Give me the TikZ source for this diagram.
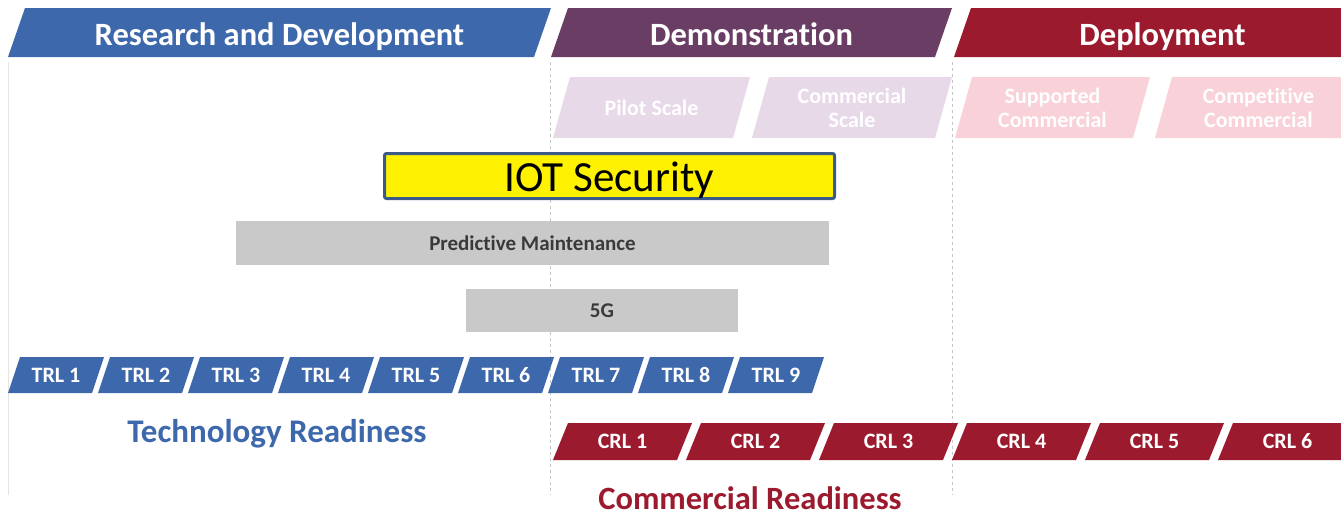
\documentclass[tikz,border=0pt]{standalone}
\usepackage{fontspec}
\setmainfont{Carlito}[Ligatures=NoCommon]
\definecolor{rdblue}{HTML}{3D68AC}
\definecolor{demopurple}{HTML}{6A3D65}
\definecolor{depred}{HTML}{9C1A2E}
\definecolor{lavender}{HTML}{E7D9E8}
\definecolor{lightpink}{HTML}{F8D2D8}
\definecolor{barray}{HTML}{C9C9C9}
\definecolor{bartext}{HTML}{3A3A3A}
\definecolor{iotborder}{HTML}{3A5A8A}
\newcommand\pgram[9]{%
  \fill[#7] (#2,#4) -- ({#2+#6},#3) -- ({#2+#6+#5},#3) -- ({#2+#5},#4) -- cycle;
  \node[#8] (#1) at ({#2+#5/2+#6/2},{(#3+#4)/2}) {#9};}
\tikzset{
  headtxt/.style={text=white,font=\fontsize{32.5}{32}\selectfont\bfseries,text height=23pt,text depth=0pt,yshift=-1pt},
  subtxt/.style={text=white,font=\fontsize{22}{24}\selectfont\bfseries,align=center},
  lvltxt/.style={text=white,font=\fontsize{22}{22}\selectfont\bfseries},
  guide/.style={draw=gray!45,dashed,line width=0.8pt},
  bar/.style={fill=barray,text=bartext,font=\fontsize{21}{21}\selectfont\bfseries},
}
\begin{document}
\begin{tikzpicture}[x=1pt,y=-1pt]
\useasboundingbox (0,0) rectangle (1341,515);
\fill[white] (0,0) rectangle (1341,515);
% guide lines
\coordinate (g1t) at (8,62); \coordinate (g1b) at (8,495);
\coordinate (g2t) at (550,62); \coordinate (g2b) at (550,495);
\coordinate (g3t) at (952,62); \coordinate (g3b) at (952,495);
\draw[draw=gray!20,line width=0.8pt] (g1t) -- (g1b);
\draw[guide] (g2t) -- (g2b);
\draw[guide] (g3t) -- (g3b);
% headers
\pgram{rd}{8}{8}{57}{526}{17}{rdblue}{headtxt}{Research and Development}
\pgram{demo}{551}{8}{57}{384}{17}{demopurple}{headtxt}{Demonstration}
\pgram{dep}{954}{8}{57}{400}{17}{depred}{headtxt}{Deployment}
% sub stages
\pgram{pilot}{553}{77}{138}{180}{17}{lavender}{subtxt}{Pilot Scale}
\pgram{cscale}{752}{77}{138}{183}{17}{lavender}{subtxt}{Commercial\\Scale}
\pgram{supp}{955}{77}{138}{178}{17}{lightpink}{subtxt}{Supported\\Commercial}
\pgram{comp}{1155}{77}{138}{190}{17}{lightpink}{subtxt}{Competitive\\Commercial}
% bars
\node[draw=iotborder,line width=3pt,fill=yellow,rounded corners=2pt,minimum width=450pt,minimum height=45pt,inner sep=0pt,text height=30pt,text depth=0pt,font=\fontsize{43}{43}\selectfont] (iot) at (609.5,176) {IOT Security};
\node[bar,minimum width=593pt,minimum height=44pt,inner sep=0pt] (pm) at (532.5,243) {Predictive Maintenance};
\node[bar,minimum width=272pt,minimum height=43pt,inner sep=0pt] (fiveg) at (602,310.5) {5G};
% TRL
\foreach \i in {1,...,9}{
  \pgfmathsetmacro\xx{8+90*(\i-1)}
  \pgram{trl\i}{\xx}{357}{393}{84}{12}{rdblue}{lvltxt}{TRL \i}
}
% CRL
\foreach \i in {1,...,6}{
  \pgfmathsetmacro\xx{553+133*(\i-1)}
  \pgram{crl\i}{\xx}{423}{460}{124}{15}{depred}{lvltxt}{CRL \i}
}
\node[text=rdblue,font=\fontsize{33}{33}\selectfont\bfseries] (tr) at (277,434) {Technology Readiness};
\node[text=depred,font=\fontsize{32.5}{32}\selectfont\bfseries] (cr) at (750,498) {Commercial Readiness};
\end{tikzpicture}
\end{document}
